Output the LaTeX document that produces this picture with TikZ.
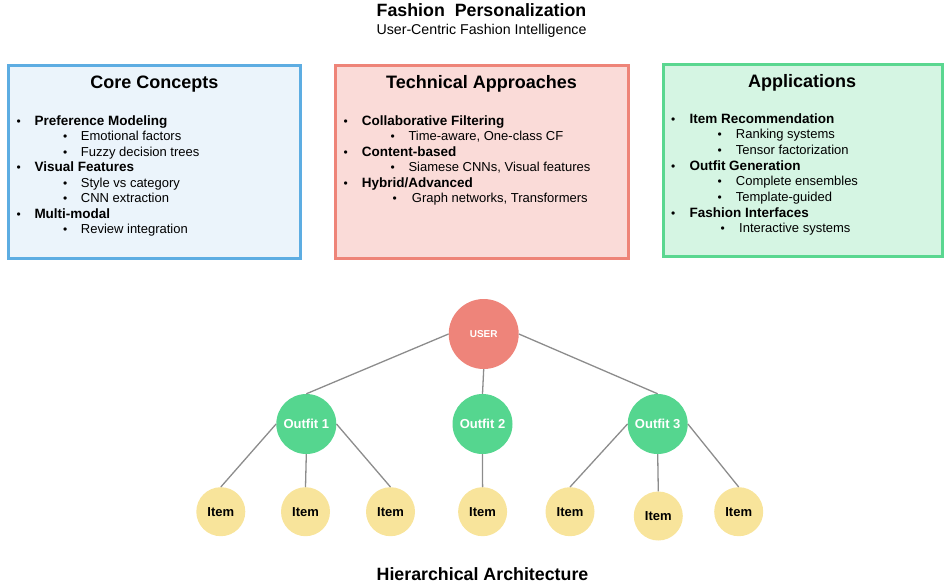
\documentclass[tikz,border=0pt]{standalone}
\usepackage{fontspec}
\setmainfont{Liberation Sans}
\definecolor{bluefill}{HTML}{EBF4FB}
\definecolor{blueline}{HTML}{5DADE2}
\definecolor{redfill}{HTML}{FADBD8}
\definecolor{redline}{HTML}{EE8478}
\definecolor{greenfill}{HTML}{D5F5E3}
\definecolor{greenline}{HTML}{5AD790}
\definecolor{userfill}{HTML}{EE847A}
\definecolor{outfitfill}{HTML}{55D68F}
\definecolor{itemfill}{HTML}{F8E49B}
\definecolor{edgegray}{HTML}{8C8C8C}
\tikzset{
  panel/.style={line width=3pt, anchor=north west, inner sep=0pt, outer sep=0pt},
  txt/.style={inner sep=0pt, anchor=base west},
  boxtitle/.style={inner sep=0pt, anchor=base, font=\fontsize{18}{20}\selectfont\bfseries},
  head/.style={txt, font=\fontsize{13.5}{15}\selectfont\bfseries},
  sub/.style={txt, font=\fontsize{13}{15}\selectfont},
  dot/.style={txt, font=\fontsize{12}{14}\selectfont},
  usernode/.style={circle, fill=userfill, minimum size=70pt, inner sep=0pt, text=white, font=\fontsize{10}{12}\selectfont\bfseries},
  outfitnode/.style={circle, fill=outfitfill, minimum size=60pt, inner sep=0pt, text=white, font=\fontsize{13}{15}\selectfont\bfseries},
  itemnode/.style={circle, fill=itemfill, minimum size=49pt, inner sep=0pt, text=black, font=\fontsize{13}{15}\selectfont\bfseries},
  link/.style={draw=edgegray, line width=1.3pt}
}
\begin{document}
\begin{tikzpicture}[x=1pt,y=-1pt]
\useasboundingbox (0,0) rectangle (944,587);
% titles
\node[inner sep=0pt, anchor=base, font=\fontsize{17.8}{20}\selectfont\bfseries] (title) at (481.5,16) {Fashion\ \ Personalization};
\node[inner sep=0pt, anchor=base, font=\fontsize{14.2}{16}\selectfont] (subtitle) at (481.5,34.5) {User-Centric Fashion Intelligence};
% panels
\node[panel, fill=bluefill, draw=blueline, minimum width=292pt, minimum height=193pt] (p1) at (8.8,65.5) {};
\node[panel, fill=redfill, draw=redline, minimum width=292.5pt, minimum height=193pt] (p2) at (335.5,65.5) {};
\node[panel, fill=greenfill, draw=greenline, minimum width=279pt, minimum height=192pt] (p3) at (663,64.8) {};
% panel 1
\node[boxtitle] (t1) at (154.5,88.3) {Core Concepts};
\node[dot] (d11) at (16.5,125) {•};
\node[head] (h11) at (34.3,125) {Preference Modeling};
\node[dot] (d12) at (63,140.5) {•};
\node[sub] (s12) at (80.7,140.5) {Emotional factors};
\node[dot] (d13) at (63,156) {•};
\node[sub] (s13) at (80.7,156) {Fuzzy decision trees};
\node[dot] (d14) at (16.5,171.5) {•};
\node[head] (h14) at (34.3,171.5) {Visual Features};
\node[dot] (d15) at (63,187) {•};
\node[sub] (s15) at (80.7,187) {Style vs category};
\node[dot] (d16) at (63,202.5) {•};
\node[sub] (s16) at (80.7,202.5) {CNN extraction};
\node[dot] (d17) at (16.5,218) {•};
\node[head] (h17) at (34.3,218) {Multi-modal};
\node[dot] (d18) at (63,233.5) {•};
\node[sub] (s18) at (80.7,233.5) {Review integration};
% panel 2
\node[boxtitle] (t2) at (481.5,88.3) {Technical Approaches};
\node[dot] (d21) at (343.5,125) {•};
\node[head] (h21) at (361.7,125) {Collaborative Filtering};
\node[dot] (d22) at (390.5,140.5) {•};
\node[sub] (s22) at (408.3,140.5) {Time-aware, One-class CF};
\node[dot] (d23) at (343.5,156) {•};
\node[head] (h23) at (361.7,156) {Content-based};
\node[dot] (d24) at (390.5,171.5) {•};
\node[sub] (s24) at (408.3,171.5) {Siamese CNNs, Visual features};
\node[dot] (d25) at (343.5,187) {•};
\node[head] (h25) at (361.7,187) {Hybrid/Advanced};
\node[dot] (d26) at (392.5,202.5) {•};
\node[sub] (s26) at (411.7,202.5) {Graph networks, Transformers};
% panel 3
\node[boxtitle] (t3) at (802,87.5) {Applications};
\node[dot] (d31) at (671,123.3) {•};
\node[head] (h31) at (689.3,123.3) {Item Recommendation};
\node[dot] (d32) at (717.5,138.8) {•};
\node[sub] (s32) at (735.7,138.8) {Ranking systems};
\node[dot] (d33) at (717.5,154.3) {•};
\node[sub] (s33) at (735.7,154.3) {Tensor factorization};
\node[dot] (d34) at (671,170) {•};
\node[head] (h34) at (689.3,170) {Outfit Generation};
\node[dot] (d35) at (717.5,185.7) {•};
\node[sub] (s35) at (735.7,185.7) {Complete ensembles};
\node[dot] (d36) at (717.5,201.3) {•};
\node[sub] (s36) at (735.7,201.3) {Template-guided};
\node[dot] (d37) at (671,217) {•};
\node[head] (h37) at (689.3,217) {Fashion Interfaces};
\node[dot] (d38) at (720.5,232.7) {•};
\node[sub] (s38) at (739,232.7) {Interactive systems};
% tree
\node[usernode] (user) at (483.7,334) {USER};
\node[outfitnode] (o1) at (306.3,424) {Outfit 1};
\node[outfitnode] (o2) at (482.5,424) {Outfit 2};
\node[outfitnode] (o3) at (657.7,424) {Outfit 3};
\node[itemnode] (i1) at (220.8,511.7) {Item};
\node[itemnode] (i2) at (305.5,511.7) {Item};
\node[itemnode] (i3) at (390.5,511.7) {Item};
\node[itemnode] (i4) at (482.6,511.7) {Item};
\node[itemnode] (i5) at (570,511.7) {Item};
\node[itemnode] (i6) at (658.3,516) {Item};
\node[itemnode] (i7) at (738.7,511.7) {Item};
\draw[link] (user.west) -- (o1.north);
\draw[link] (user.south) -- (o2.north);
\draw[link] (user.east) -- (o3.north);
\draw[link] (o1.west) -- (i1.north);
\draw[link] (o1.south) -- (i2.north);
\draw[link] (o1.east) -- (i3.north);
\draw[link] (o2.south) -- (i4.north);
\draw[link] (o3.west) -- (i5.north);
\draw[link] (o3.south) -- (i6.north);
\draw[link] (o3.east) -- (i7.north);
\node[inner sep=0pt, anchor=base, font=\fontsize{17.8}{20}\selectfont\bfseries] (foot) at (482.5,580) {Hierarchical Architecture};
\end{tikzpicture}
\end{document}
